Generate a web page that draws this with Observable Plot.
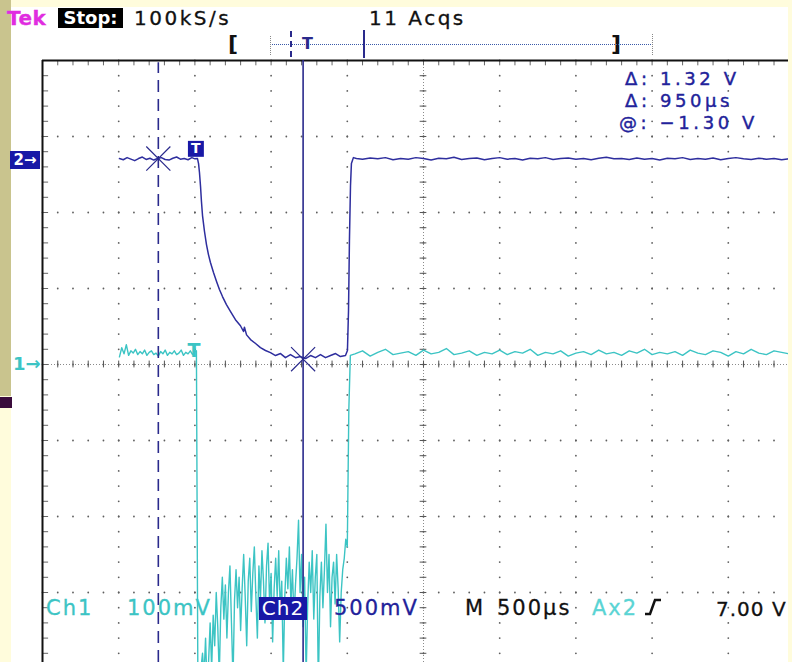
<!DOCTYPE html>
<html>
<head>
<meta charset="utf-8">
<script src="https://cdn.jsdelivr.net/npm/d3@7"></script>
<script src="https://cdn.jsdelivr.net/npm/@observablehq/plot@0.6"></script>
<style>
html, body { margin: 0; padding: 0; background: #fffcdc; }
#wrap { position: relative; width: 792px; height: 662px; overflow: hidden; font-family: "DejaVu Sans", sans-serif; }
#screen { position: absolute; left: 11px; top: 7px; width: 777px; height: 655px; background: #ffffff; }
#khaki { position: absolute; left: 0; top: 0; width: 11px; height: 396px; background: #c9c48e; }
#purple { position: absolute; left: 0; top: 397px; width: 12px; height: 11px; background: #3a0c3c; }
#plot { position: absolute; left: 0; top: 0; }
#plot svg { overflow: hidden; }
.t { position: absolute; font-size: 20px; letter-spacing: 2.5px; line-height: 18px; white-space: nowrap; -webkit-text-stroke: 0.3px currentColor; }
.r { position: absolute; font-size: 18px; letter-spacing: 3.6px; line-height: 18px; white-space: nowrap; -webkit-text-stroke: 0.4px currentColor; color: #22229a; }
.f { position: absolute; font-size: 21px; letter-spacing: 2px; line-height: 21px; white-space: nowrap; -webkit-text-stroke: 0.3px currentColor; }
#rightStrip { position: absolute; left: 788px; top: 0; width: 4px; height: 662px; background: #fffcdc; }
#topStrip { position: absolute; left: 11px; top: 0; width: 781px; height: 7px; background: #fffcdc; }
</style>
</head>
<body>
<div id="wrap">
  <div id="screen"></div>
  <div id="khaki"></div>
  <div id="purple"></div>
  <div id="plot"></div>
  <div id="topStrip"></div>
  <div id="rightStrip"></div>
  <div id="overlay"></div>
</div>
<script>
// ---------------- settings ----------------
const timePerDiv = 500;          // µs / div  ("M 500µs")
const ch1Scale = 100;            // mV / div  ("Ch1 100mV")
const ch2Scale = 0.5;            // V / div   ("Ch2 500mV")
const ch1Offset = 0;             // ground marker "1→" (divisions from centre)
const ch2Offset = 2.67;          // ground marker "2→" (divisions from centre)
const sampleRate = "100kS/s";
const acquisitions = "11 Acqs";
const triggerSource = "Ax2";
const triggerLevel = "7.00 V";

// graticule (time in µs, vertical in divisions)
const xMajor = [-1000, -500, 0, 500, 1000, 1500, 2000, 2500, 3000, 3500, 4000];
const yMajor = [-4, -3, -2, -1, 0, 1, 2, 3, 4];

// cursors (time µs, Ch2 volts)
const cursorTimes = [-240, 710];
const cursorVolts = [0.02, -1.30];

// Ch2 trace: [time µs, volts]
const ch2Trace = [
  [-495,0.02],[-470,0.012],[-445,0.026],[-420,0.016],[-395,0.006],[-370,0.02],[-345,0.03],[-320,0.014],
  [-295,0.022],[-270,0.01],[-245,0.02],[-220,0.026],[-195,0.014],[-170,0.01],[-145,0.022],[-120,0.03],
  [-95,0.016],[-70,0.02],[-45,0.012],[-20,0.026],[0,0.018],[17,0.02],
  [24,-0.013],[30,-0.072],[37,-0.164],[43,-0.263],[50,-0.355],[63,-0.46],[76,-0.546],[89,-0.612],
  [102,-0.664],[122,-0.73],[142,-0.789],[161,-0.842],[181,-0.888],[207,-0.941],[234,-0.987],[266,-1.04],
  [299,-1.08],[319,-1.118],[325,-1.09],[339,-1.14],[365,-1.171],[398,-1.197],[430,-1.224],[463,-1.243],
  [496,-1.257],[529,-1.276],[562,-1.263],[594,-1.29],[627,-1.27],[660,-1.29],[693,-1.283],[726,-1.296],
  [759,-1.276],[791,-1.29],[824,-1.27],[857,-1.29],[890,-1.276],[923,-1.263],[955,-1.283],[988,-1.276],
  [1001,-1.243],[1008,-0.98],[1014,-0.52],[1021,-0.158],[1027,-0.013],[1040,0.026],[1060,0.02],
  [1100,0.015],[1150,0.024],[1200,0.018],[1250,0.026],[1300,0.012],[1350,0.02],[1400,0.016],[1450,0.026],
  [1500,0.02],[1550,0.01],[1600,0.022],[1650,0.018],[1700,0.028],[1750,0.014],[1800,0.02],[1850,0.024],
  [1900,0.012],[1950,0.02],[2000,0.026],[2050,0.016],[2100,0.02],[2150,0.01],[2200,0.022],[2250,0.018],
  [2300,0.026],[2350,0.014],[2400,0.02],[2450,0.024],[2500,0.016],[2550,0.02],[2600,0.012],[2650,0.022],
  [2700,0.028],[2750,0.018],[2800,0.02],[2850,0.014],[2900,0.024],[2950,0.016],[3000,0.02],[3050,0.01],
  [3100,0.022],[3150,0.018],[3200,0.026],[3250,0.014],[3300,0.02],[3350,0.016],[3400,0.024],[3450,0.012],
  [3500,0.02],[3550,0.026],[3600,0.018],[3650,0.014],[3700,0.022],[3750,0.016],[3800,0.02],[3850,0.012],
  [3900,0.018]
];

// Ch1 trace: [time µs, millivolts]
const ch1Trace = [
  [-495,10],[-480,22],[-465,14],[-450,26],[-435,12],[-420,18],[-405,15],[-390,20],[-375,13],[-360,17],
  [-345,14],[-330,19],[-315,12],[-300,16],[-285,18],[-270,13],[-255,15],[-240,11],[-225,17],[-210,14],
  [-195,19],[-180,12],[-165,16],[-150,14],[-135,18],[-120,13],[-105,15],[-90,19],[-75,12],[-60,16],
  [-45,14],[-30,18],[-15,13],[0,17],[10,18],[20,-440],
  [30,-430],[40,-400],[50,-380],[60,-410],[70,-360],[80,-425],[90,-390],[100,-340],[110,-400],[120,-330],
  [130,-370],[140,-300],[150,-345],[160,-410],[170,-320],[180,-280],[190,-335],[200,-290],[210,-360],[220,-300],
  [230,-265],[240,-340],[250,-415],[260,-310],[270,-270],[280,-320],[290,-280],[300,-350],[310,-295],[320,-250],
  [330,-305],[340,-370],[350,-285],[360,-255],[370,-325],[380,-275],[390,-240],[400,-305],[410,-360],[420,-265],
  [430,-310],[440,-245],[450,-285],[460,-340],[470,-265],[480,-235],[490,-315],[500,-275],[510,-365],[520,-295],
  [530,-255],[540,-305],[550,-245],[560,-325],[570,-285],[580,-405],[590,-305],[600,-255],[610,-295],[620,-240],
  [630,-315],[640,-270],[650,-335],[660,-290],[670,-255],[680,-205],[690,-300],[700,-250],[710,-345],[720,-280],
  [730,-410],[740,-315],[750,-260],[760,-300],[770,-245],[780,-335],[790,-280],[800,-250],[810,-425],[820,-305],
  [830,-260],[840,-320],[850,-270],[860,-210],[870,-300],[880,-250],[890,-345],[900,-280],[910,-260],[920,-315],
  [930,-250],[940,-295],[950,-365],[960,-300],[970,-270],[980,-255],[990,-230],
  [1000,-240],[1010,-60],[1020,12],
  [1050,14],[1100,18],[1150,11],[1200,16],[1250,20],[1300,13],[1350,15],[1400,17],[1450,12],[1500,19],
  [1550,14],[1600,16],[1650,21],[1700,13],[1750,15],[1800,18],[1850,12],[1900,16],[1950,14],[2000,19],
  [2050,13],[2100,17],[2150,15],[2200,20],[2250,12],[2300,16],[2350,14],[2400,18],[2450,11],[2500,15],
  [2550,17],[2600,13],[2650,19],[2700,14],[2750,16],[2800,12],[2850,18],[2900,15],[2950,20],[3000,13],
  [3050,16],[3100,14],[3150,17],[3200,12],[3250,19],[3300,15],[3350,13],[3400,18],[3450,16],[3500,11],
  [3550,17],[3600,14],[3650,20],[3700,15],[3750,13],[3800,18],[3850,16],[3900,14]
];

// ---------------- colours ----------------
const cyan = "#3cc4c4";
const blue = "#2e2e9e";
const cursorBlue = "#2a2a8c";
const boxBlue = "#1818a6";

// ---------------- frame geometry (pixels <-> units) ----------------
const W = 792, H = 662;
const pxPerDivX = 76.2, pxPerDivY = 76;
const left = 42, centreY = 364;
const xDomain = [-1000 - left / pxPerDivX * timePerDiv, -1000 + (W - left) / pxPerDivX * timePerDiv];
const yDomain = [(centreY - H) / pxPerDivY, centreY / pxPerDivY];
const xMax = xDomain[1], yMin = yDomain[0];

const ch2Div = v => ch2Offset + v / ch2Scale;
const ch1Div = mv => ch1Offset + mv / ch1Scale;

const ch1Data = ch1Trace.map(([t, v]) => ({t, y: ch1Div(v)}));
const ch2Data = ch2Trace.map(([t, v]) => ({t, y: ch2Div(v)}));
const cursorData = cursorTimes.map((t, i) => ({t, y: ch2Div(cursorVolts[i])}));

const xMinor = d3.range(-10, 41).map(i => i * timePerDiv / 5);
const yMinor = d3.range(-20, 21).map(i => i / 5);
const gridDots = [];
for (const t of xMajor) if (t !== -1000) for (const v of yMinor) gridDots.push({t, v});
for (const v of yMajor) if (v !== 4) for (const t of xMinor) gridDots.push({t, v});

const centreT = -1000 + 5 * timePerDiv;
const trigT = 0;
const trigCh2 = ch2Data.find(d => d.t >= trigT).y;
const trigCh1 = ch1Data.find(d => d.t >= trigT).y;

const plot = Plot.plot({
  width: W, height: H, margin: 0,
  x: {domain: xDomain, axis: null},
  y: {domain: yDomain, axis: null},
  style: {background: "transparent", overflow: "hidden"},
  marks: [
    Plot.dot(gridDots, {x: "t", y: "v", r: 0.9, fill: "#5e5e5e", stroke: null}),
    Plot.ruleY([0], {x1: -1000, x2: xMax, stroke: "#8a8a8a", strokeDasharray: "1,2"}),
    Plot.ruleX([centreT], {y1: yMin, y2: 4, stroke: "#8a8a8a", strokeDasharray: "1,2"}),
    Plot.ruleX(xMinor, {x: d => d, y1: -0.045, y2: 0.045, stroke: "#555"}),
    Plot.ruleY(yMinor, {y: d => d, x1: centreT - 22, x2: centreT + 22, stroke: "#555"}),
    Plot.ruleX(xMinor, {x: d => d, y1: 4, y2: 3.93, stroke: "#666"}),
    Plot.ruleY(yMinor, {y: d => d, x1: -1000, x2: -960, stroke: "#666"}),
    Plot.ruleY([4], {x1: -1000, x2: xMax, stroke: "#111", strokeWidth: 2}),
    Plot.ruleX([-1000], {y1: yMin, y2: 4, stroke: "#111", strokeWidth: 2}),
    Plot.line(ch1Data, {x: "t", y: "y", stroke: cyan, strokeWidth: 1.4, clip: true}),
    Plot.line(ch2Data, {x: "t", y: "y", stroke: blue, strokeWidth: 1.5, clip: true}),
    Plot.ruleX([cursorTimes[0]], {y1: yMin, y2: 3.97, stroke: cursorBlue, strokeWidth: 1.6, strokeDasharray: "12,7"}),
    Plot.ruleX([cursorTimes[1]], {y1: yMin, y2: 4, stroke: cursorBlue, strokeWidth: 1.6}),
    Plot.dot(cursorData, {x: "t", y: "y", symbol: "times", r: 11, stroke: cursorBlue, strokeWidth: 1.2}),
    Plot.dot([{t: trigT, y: trigCh2}], {x: "t", y: "y", symbol: "square", r: 9, fill: boxBlue, dy: -10, dx: 1}),
    Plot.text([{t: trigT, y: trigCh2}], {x: "t", y: "y", text: () => "T", fill: "white", fontWeight: "bold", fontSize: 14, fontFamily: "DejaVu Sans", dy: -10, dx: 1}),
    Plot.text([{t: trigT, y: trigCh1}], {x: "t", y: "y", text: () => "T", fill: cyan, fontWeight: "bold", fontSize: 19, fontFamily: "DejaVu Sans", dy: -1, dx: -1})
  ]
});
document.getElementById("plot").appendChild(plot);

// ---------------- on-screen readouts ----------------
const dV = (cursorVolts[0] - cursorVolts[1]).toFixed(2);
const dT = Math.round(cursorTimes[1] - cursorTimes[0]);
const atV = cursorVolts[1].toFixed(2).replace("-", "\u2212");
const fmtMV = v => v >= 1 ? v + "V" : Math.round(v * 1000) + "mV";

const ov = document.getElementById("overlay");
function add(html, cls, style) {
  const d = document.createElement("div");
  d.className = cls || "";
  d.setAttribute("style", style);
  d.innerHTML = html;
  ov.appendChild(d);
  return d;
}
// header
add("Tek", "t", "left:7px;top:9px;color:#e02ce0;font-weight:bold;letter-spacing:0.5px;font-size:20px;");
add("Stop:", "", "position:absolute;left:58px;top:8px;width:65px;height:20px;background:#000;color:#fff;font-weight:bold;font-size:18px;line-height:20px;text-align:center;");
add(sampleRate, "t", "left:134px;top:9px;color:#111;");
add(acquisitions, "t", "left:369px;top:9px;color:#111;");
// record bar
add("[", "", "position:absolute;left:228px;top:31px;font-size:22px;font-weight:bold;line-height:26px;color:#111;");
add("]", "", "position:absolute;left:611px;top:31px;font-size:22px;font-weight:bold;line-height:26px;color:#111;");
add("", "", "position:absolute;left:270px;top:44px;width:383px;height:0;border-top:1.5px dotted #3a5aa8;");
add("", "", "position:absolute;left:270px;top:36px;width:0;height:19px;border-left:1px dotted #888;");
add("", "", "position:absolute;left:652px;top:34px;width:0;height:21px;border-left:1px dotted #888;");
add("", "", "position:absolute;left:290px;top:31px;width:0;height:26px;border-left:2px dashed " + cursorBlue + ";");
add("", "", "position:absolute;left:363px;top:30px;width:2px;height:28px;background:" + cursorBlue + ";");
add("T", "", "position:absolute;left:302px;top:35px;font-size:16px;font-weight:bold;line-height:18px;color:" + cursorBlue + ";");
// channel ground markers
add("2\u2192", "", "position:absolute;left:10px;top:151px;width:30px;height:18px;background:" + boxBlue + ";color:#fff;font-weight:bold;font-size:15px;line-height:18px;text-align:center;");
add("1\u2192", "", "position:absolute;left:13px;top:354px;color:" + cyan + ";font-weight:bold;font-size:18px;line-height:20px;");
// cursor readouts
add("\u0394: " + dV + " V", "r", "left:625px;top:70px;");
add("\u0394: " + dT + "\u00b5s", "r", "left:625px;top:92px;");
add("@: " + atV + " V", "r", "left:619px;top:114px;");
// footer
add("Ch1", "f", "left:46px;top:598px;color:" + cyan + ";");
add(fmtMV(ch1Scale / 1000), "f", "left:127px;top:598px;color:" + cyan + ";");
add("Ch2", "", "position:absolute;left:259px;top:597px;width:48px;height:23px;background:" + boxBlue + ";color:#fff;font-size:20px;line-height:23px;text-align:center;letter-spacing:1px;");
add(fmtMV(ch2Scale), "f", "left:334px;top:598px;color:#22229a;");
add("M", "f", "left:465px;top:598px;color:#111;");
add(timePerDiv + "\u00b5s", "f", "left:497px;top:598px;color:#111;");
add(triggerSource, "f", "left:592px;top:598px;color:#5ad4d4;");
add('<svg width="18" height="20"><path d="M1 17 H6 L11 3 H17" fill="none" stroke="#111" stroke-width="2.5"/></svg>', "", "position:absolute;left:644px;top:597px;");
add(triggerLevel, "f", "left:716px;top:599px;color:#111;font-size:20px;letter-spacing:1px;");
</script>
</body>
</html>
